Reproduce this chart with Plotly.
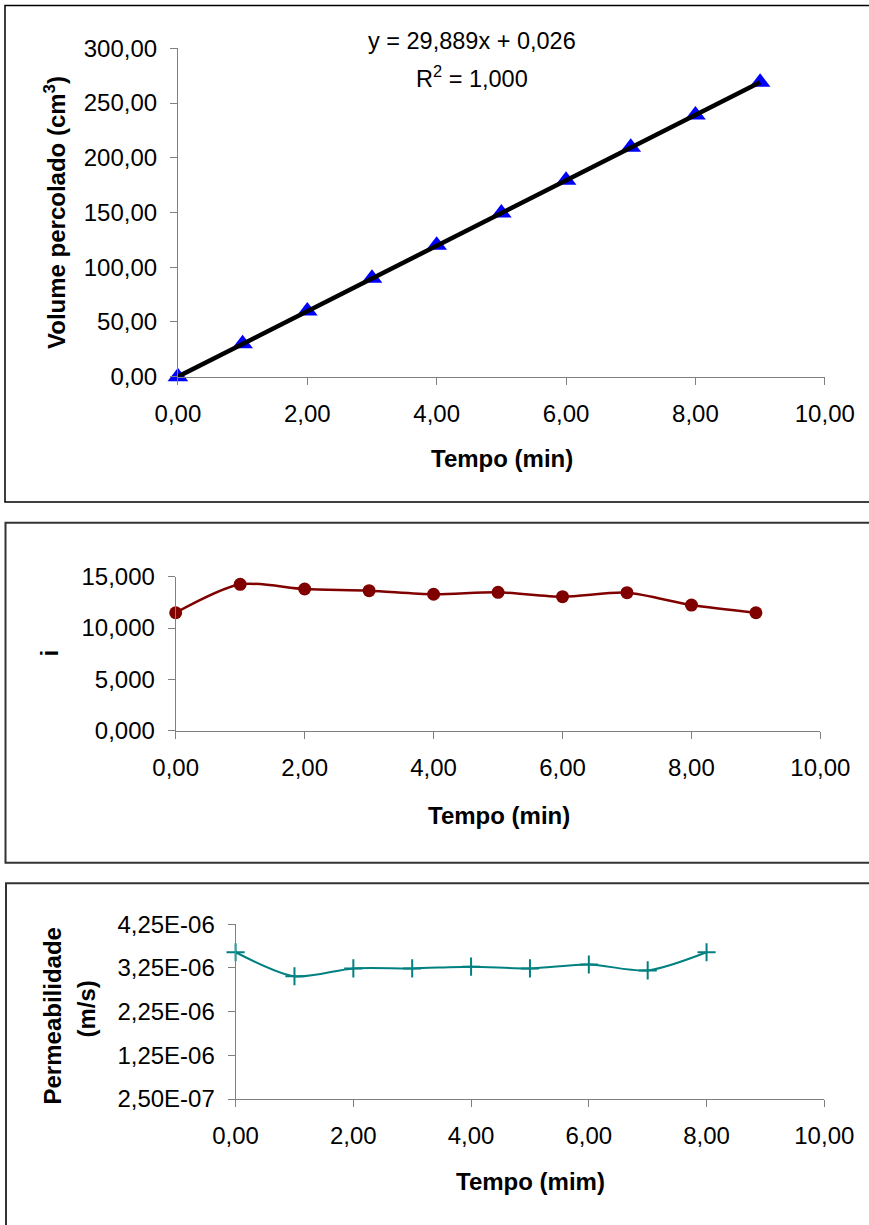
import plotly.graph_objects as go

# ---------------- data ----------------
tempo = [0, 1, 2, 3, 4, 5, 6, 7, 8, 9]
volume = [0.0, 30.0, 60.0, 90.0, 120.0, 149.5, 179.5, 209.5, 239.0, 269.0]
fit_slope = 29.889
fit_intercept = 0.026
fit_x = [0, 9]

tempo_i = [0, 1, 2, 3, 4, 5, 6, 7, 8, 9]
gradiente_i = [11.49, 14.26, 13.80, 13.64, 13.29, 13.48, 13.05, 13.44, 12.24, 11.49]

tempo_k = [0, 1, 2, 3, 4, 5, 6, 7, 8]
permeab = [3.61e-06, 3.06e-06, 3.24e-06, 3.24e-06, 3.28e-06, 3.24e-06, 3.33e-06, 3.195e-06, 3.61e-06]

k_tickvals = [2.5e-07, 1.25e-06, 2.25e-06, 3.25e-06, 4.25e-06]
k_ticktext = ["2,50E-07", "1,25E-06", "2,25E-06", "3,25E-06", "4,25E-06"]

# ---------------- layout helpers ----------------
W, H = 869, 1225
def px(x):
    return x / W
def py(y):
    return 1 - y / H

FONT = "Liberation Sans, Arial, sans-serif"
AX = "#808080"

fit_y = [fit_slope * v + fit_intercept for v in fit_x]

fig = go.Figure()

# Panel 1
fig.add_trace(go.Scatter(x=tempo, y=volume, mode="markers",
                         marker=dict(symbol="triangle-up", size=18, color="#0000FF"),
                         cliponaxis=False, xaxis="x", yaxis="y", showlegend=False))
fig.add_trace(go.Scatter(x=fit_x, y=fit_y, mode="lines",
                         line=dict(color="black", width=4.5),
                         cliponaxis=False, xaxis="x", yaxis="y", showlegend=False))

# Panel 2
fig.add_trace(go.Scatter(x=tempo_i, y=gradiente_i, mode="lines+markers",
                         line=dict(color="#800000", width=2.5, shape="spline", smoothing=0.8),
                         marker=dict(symbol="circle", size=13, color="#800000"),
                         cliponaxis=False, xaxis="x2", yaxis="y2", showlegend=False))

# Panel 3
fig.add_trace(go.Scatter(x=tempo_k, y=permeab, mode="lines+markers",
                         line=dict(color="#008080", width=2, shape="spline", smoothing=0.8),
                         marker=dict(symbol="cross-thin", size=13, color="#008080",
                                     line=dict(color="#008080", width=2)),
                         cliponaxis=False, xaxis="x3", yaxis="y3", showlegend=False))

def xax(domain, anchor):
    return dict(domain=domain, anchor=anchor, range=[0, 10], tickvals=[0, 2, 4, 6, 8, 10],
                tickformat=".2f", showgrid=False, zeroline=False, showline=True,
                linecolor=AX, linewidth=1, ticks="outside", ticklen=7, tickcolor=AX,
                tickwidth=1, ticklabelstandoff=8, automargin=False,
                tickfont=dict(family=FONT, size=24, color="black"))

def yax(domain, anchor, rng, **kw):
    d = dict(domain=domain, anchor=anchor, range=rng, showgrid=False, zeroline=False,
             showline=True, linecolor=AX, linewidth=1, ticks="outside", ticklen=7,
             tickcolor=AX, tickwidth=1, ticklabelstandoff=8, automargin=False,
             tickfont=dict(family=FONT, size=24, color="black"))
    d.update(kw)
    return d

fig.update_layout(
    width=W, height=H, autosize=False,
    margin=dict(l=0, r=0, t=0, b=0, pad=0, autoexpand=False),
    paper_bgcolor="white", plot_bgcolor="white",
    separators=",.",
    xaxis=xax([px(177.9), px(824.8)], "y"),
    yaxis=yax([py(376.7), py(48.3)], "x", [0, 300], dtick=50, tickformat=".2f"),
    xaxis2=xax([px(175.7), px(820.4)], "y2"),
    yaxis2=yax([py(730.7), py(576.7)], "x2", [0, 15], dtick=5, tickformat=".3f"),
    xaxis3=xax([px(235.6), px(824.3)], "y3"),
    yaxis3=yax([py(1099), py(924.3)], "x3", [2.5e-07, 4.25e-06],
               tickvals=k_tickvals, ticktext=k_ticktext),
)

# panel borders
shapes = [
    dict(type="rect", xref="paper", yref="paper", x0=px(5), x1=px(880), y0=py(502), y1=py(5.5),
         line=dict(color="black", width=1.5), fillcolor="rgba(0,0,0,0)", layer="below"),
    dict(type="rect", xref="paper", yref="paper", x0=px(5.5), x1=px(880), y0=py(862.7), y1=py(522.7),
         line=dict(color="#333333", width=2), fillcolor="rgba(0,0,0,0)", layer="below"),
    dict(type="rect", xref="paper", yref="paper", x0=px(6), x1=px(880), y0=py(1232), y1=py(883.3),
         line=dict(color="#333333", width=2), fillcolor="rgba(0,0,0,0)", layer="below"),
]
fig.update_layout(shapes=shapes)

def ann(text, x, y, size=24, bold=False, angle=0):
    return dict(text=text, x=px(x), y=py(y), xref="paper", yref="paper",
                showarrow=False, xanchor="center", yanchor="middle", textangle=angle,
                font=dict(family=FONT, size=size, color="black",
                          weight="bold" if bold else "normal"))

annotations = [
    ann("y = 29,889x + 0,026", 471.7, 41, size=23.5),
    ann("R<sup>2</sup> = 1,000", 471.7, 77, size=23.5),
    ann("Tempo (min)", 501.5, 458, bold=True),
    ann("Volume percolado (cm<sup>3</sup>)", 55, 213, bold=True, angle=-90),
    ann("Tempo (min)", 499, 815, bold=True),
    ann("i", 49, 653.5, bold=True, angle=-90),
    ann("Tempo (mim)", 530.5, 1181, bold=True),
    ann("Permeabilidade", 52, 1016.5, bold=True, angle=-90),
    ann("(m/s)", 85.5, 1009, bold=True, angle=-90),
]
fig.update_layout(annotations=annotations)

fig.write_html(
    "out.html",
    config={"displayModeBar": False},
    post_script="document.body.style.margin='0';document.body.style.padding='0';"
                "document.body.style.overflow='hidden';"
                "document.documentElement.style.overflow='hidden';",
)
